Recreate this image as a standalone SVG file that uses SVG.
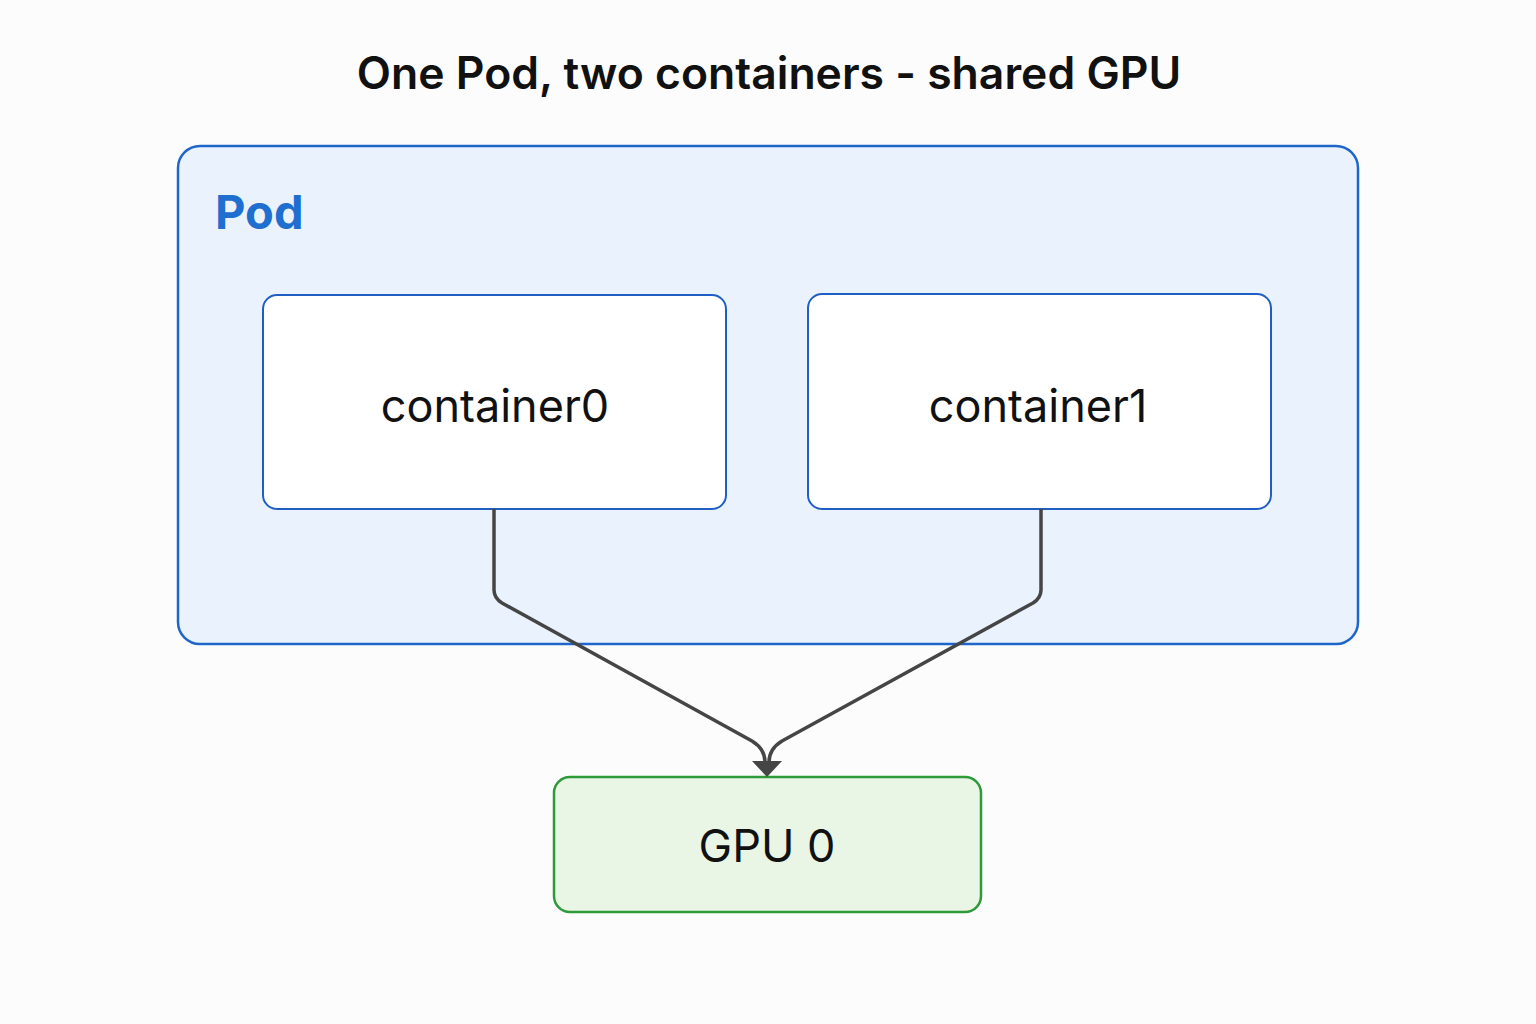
<svg xmlns="http://www.w3.org/2000/svg" width="1536" height="1024" viewBox="0 0 1536 1024">
<style>
.title{font-family:Inter,"Liberation Sans",sans-serif;font-weight:600;font-size:44.5px;fill:#111}
.lbl{font-family:Inter,"Liberation Sans",sans-serif;font-size:45px;fill:#111;text-anchor:middle}
.ctr{fill:#ffffff;stroke:#1f5fc4;stroke-width:2}
.conn{fill:none;stroke:#454545;stroke-width:3.5;stroke-linejoin:round}
.head{fill:#454545}
</style>
<rect width="1536" height="1024" fill="#fcfcfc"/>
<text class="title" x="769" y="89" text-anchor="middle">One Pod, two containers - shared GPU</text>
<g id="pod">
<rect x="178" y="146" width="1180" height="498" rx="22" fill="#eaf3fd" stroke="#1f66c9" stroke-width="2.5"/>
<text x="215" y="229" font-family="Inter,'Liberation Sans',sans-serif" font-weight="700" font-size="47" fill="#1f6fd0">Pod</text>
</g>
<g id="container0">
<rect class="ctr" x="263" y="295" width="463" height="214" rx="14"/>
<text class="lbl" x="495" y="422">container0</text>
</g>
<g id="container1">
<rect class="ctr" x="808" y="294" width="463" height="215" rx="14"/>
<text class="lbl" x="1038" y="422">container1</text>
</g>
<g id="gpu0">
<rect x="554" y="777" width="427" height="135" rx="16" fill="#e9f6e6" stroke="#2e9a3a" stroke-width="2.5"/>
<text class="lbl" x="767" y="862">GPU 0</text>
</g>
<g id="connectors">
<path class="conn" d="M494 509 V590 Q494 598 502 603 L752 741 Q765 749 765 762"/>
<path class="conn" d="M1041 509 V590 Q1041 598 1033 603 L782 741 Q769 749 769 762"/>
<path class="head" d="M752 761 L782 761 L767 777 Z"/>
</g>
</svg>
